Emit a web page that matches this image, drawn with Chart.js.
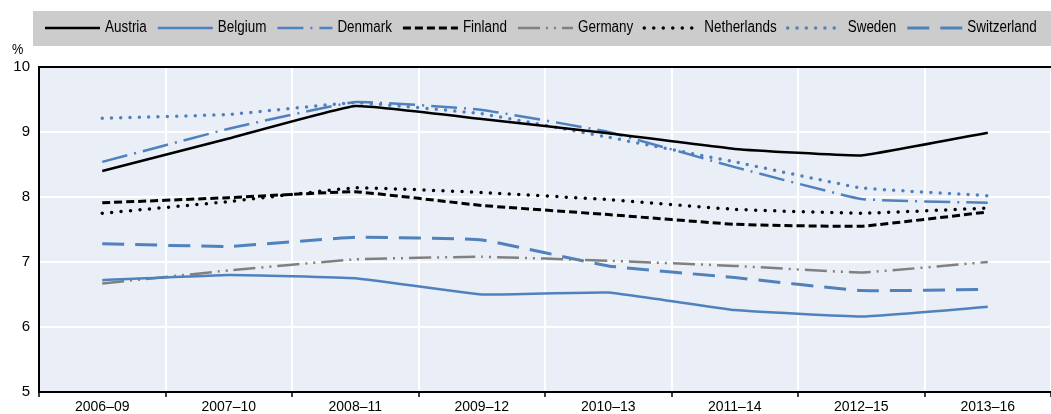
<!DOCTYPE html>
<html>
<head>
<meta charset="utf-8">
<script src="https://cdn.jsdelivr.net/npm/chart.js@4.4.1/dist/chart.umd.min.js"></script>
<style>
  html, body { margin: 0; padding: 0; background: #fff; }
  #wrap { width: 1051px; height: 414px; }
</style>
</head>
<body>
<div id="wrap"><canvas id="grafico" width="1051" height="414"></canvas></div>
<script>
// Periodos (médias de 4 anos)
const periodos = ['2006–09', '2007–10', '2008–11', '2009–12', '2010–13', '2011–14', '2012–15', '2013–16'];

// Valores em %
const austria     = [8.40, 8.90, 9.40, 9.20, 8.98, 8.74, 8.64, 8.99];
const belgium     = [6.72, 6.80, 6.75, 6.50, 6.53, 6.26, 6.16, 6.31];
const denmark     = [8.54, 9.05, 9.46, 9.34, 9.00, 8.46, 7.97, 7.91];
const finland     = [7.91, 7.99, 8.08, 7.87, 7.73, 7.58, 7.55, 7.77];
const germany     = [6.67, 6.87, 7.04, 7.08, 7.02, 6.94, 6.84, 7.00];
const netherlands = [7.75, 7.93, 8.14, 8.07, 7.96, 7.81, 7.75, 7.83];
const sweden      = [9.21, 9.27, 9.45, 9.28, 8.92, 8.54, 8.14, 8.02];
const switzerland = [7.28, 7.24, 7.38, 7.34, 6.94, 6.76, 6.56, 6.58];

// Eixo Y
const yMin = 5;
const yMax = 10;
const yPasso = 1;

const AZUL = '#4f81bd';
const CINZA = '#808080';
const PRETO = '#000000';
const FONTE = '"Liberation Sans", Arial, sans-serif';

function serie(label, data, cor, dash, largura, cap) {
    return {
        label: label,
        data: data,
        borderColor: cor,
        backgroundColor: cor,
        borderWidth: largura || 2.5,
        borderDash: dash || [],
        borderCapStyle: cap || 'butt',
        pointRadius: 0,
        pointHoverRadius: 0,
        tension: 0.1,
        fill: false
    };
}

const series = [
    serie('Austria', austria, PRETO),
    serie('Belgium', belgium, AZUL),
    serie('Denmark', denmark, AZUL, [26, 7, 2, 7]),
    serie('Finland', finland, PRETO, [8, 4], 3),
    serie('Germany', germany, CINZA, [22, 6, 2, 6, 2, 6]),
    serie('Netherlands', netherlands, PRETO, [0, 9.5], 3.5, 'round'),
    serie('Sweden', sweden, AZUL, [0, 9.3], 3.5, 'round'),
    serie('Switzerland', switzerland, AZUL, [22, 11], 3)
];

// texto condensado (fonte estreita simulada com escala horizontal)
function textoEstreito(c, txt, x, y, escala) {
    c.save();
    c.translate(x, y);
    c.scale(escala, 1);
    c.fillText(txt, 0, 0);
    c.restore();
    return c.measureText(txt).width * escala;
}

// Fundo da área do gráfico, borda superior, legenda e rótulo "%"
const decoracao = {
    id: 'decoracao',
    beforeDraw(chart) {
        const { ctx, chartArea: a } = chart;
        ctx.save();
        ctx.fillStyle = '#eaeef6';
        ctx.fillRect(a.left, a.top, a.right - a.left, a.bottom - a.top);
        ctx.restore();
    },
    afterDraw(chart) {
        const { ctx, chartArea: a } = chart;
        ctx.save();

        // borda superior
        ctx.strokeStyle = PRETO;
        ctx.lineWidth = 2;
        ctx.beginPath();
        ctx.moveTo(a.left - 1, a.top);
        ctx.lineTo(a.right, a.top);
        ctx.stroke();

        // unidade
        ctx.fillStyle = PRETO;
        ctx.font = '15px ' + FONTE;
        ctx.textBaseline = 'middle';
        ctx.textAlign = 'left';
        textoEstreito(ctx, '%', 12, 50, 0.85);

        // legenda
        ctx.fillStyle = '#cccccc';
        ctx.fillRect(33, 11, chart.width - 33, 35);
        ctx.font = '16px ' + FONTE;
        const yLeg = 28;
        let x = 45;
        chart.data.datasets.forEach(ds => {
            ctx.save();
            ctx.strokeStyle = ds.borderColor;
            ctx.lineWidth = ds.borderWidth;
            ctx.setLineDash(ds.borderDash);
            ctx.lineCap = ds.borderCapStyle;
            ctx.beginPath();
            ctx.moveTo(x, yLeg);
            ctx.lineTo(x + 55, yLeg);
            ctx.stroke();
            ctx.restore();
            ctx.fillStyle = PRETO;
            const w = textoEstreito(ctx, ds.label, x + 60, yLeg, 0.84);
            x += 60 + w + 11;
        });
        ctx.restore();
    }
};

const ctx = document.getElementById('grafico').getContext('2d');
const grafico = new Chart(ctx, {
    type: 'line',
    data: {
        labels: periodos,
        datasets: series
    },
    options: {
        responsive: false,
        animation: false,
        layout: { padding: { top: 67, left: 0, right: 0, bottom: 0 } },
        plugins: {
            legend: { display: false },
            tooltip: { enabled: false }
        },
        scales: {
            x: {
                offset: true,
                grid: {
                    offset: true,
                    color: '#ffffff',
                    lineWidth: 2,
                    drawTicks: true,
                    tickLength: 5,
                    tickColor: PRETO,
                    tickWidth: 1.5
                },
                border: { display: true, color: PRETO, width: 2 },
                ticks: {
                    color: PRETO,
                    font: { family: FONTE, size: 14 },
                    padding: 2,
                    maxRotation: 0
                },
                afterFit(scale) { scale.height = 22; }
            },
            y: {
                min: yMin,
                max: yMax,
                ticks: {
                    stepSize: yPasso,
                    color: PRETO,
                    font: { family: FONTE, size: 15 },
                    padding: 9
                },
                grid: {
                    color: '#ffffff',
                    lineWidth: 2,
                    drawTicks: false
                },
                border: { display: true, color: PRETO, width: 2 },
                afterFit(scale) { scale.width = 39; }
            }
        }
    },
    plugins: [decoracao]
});
</script>
</body>
</html>
